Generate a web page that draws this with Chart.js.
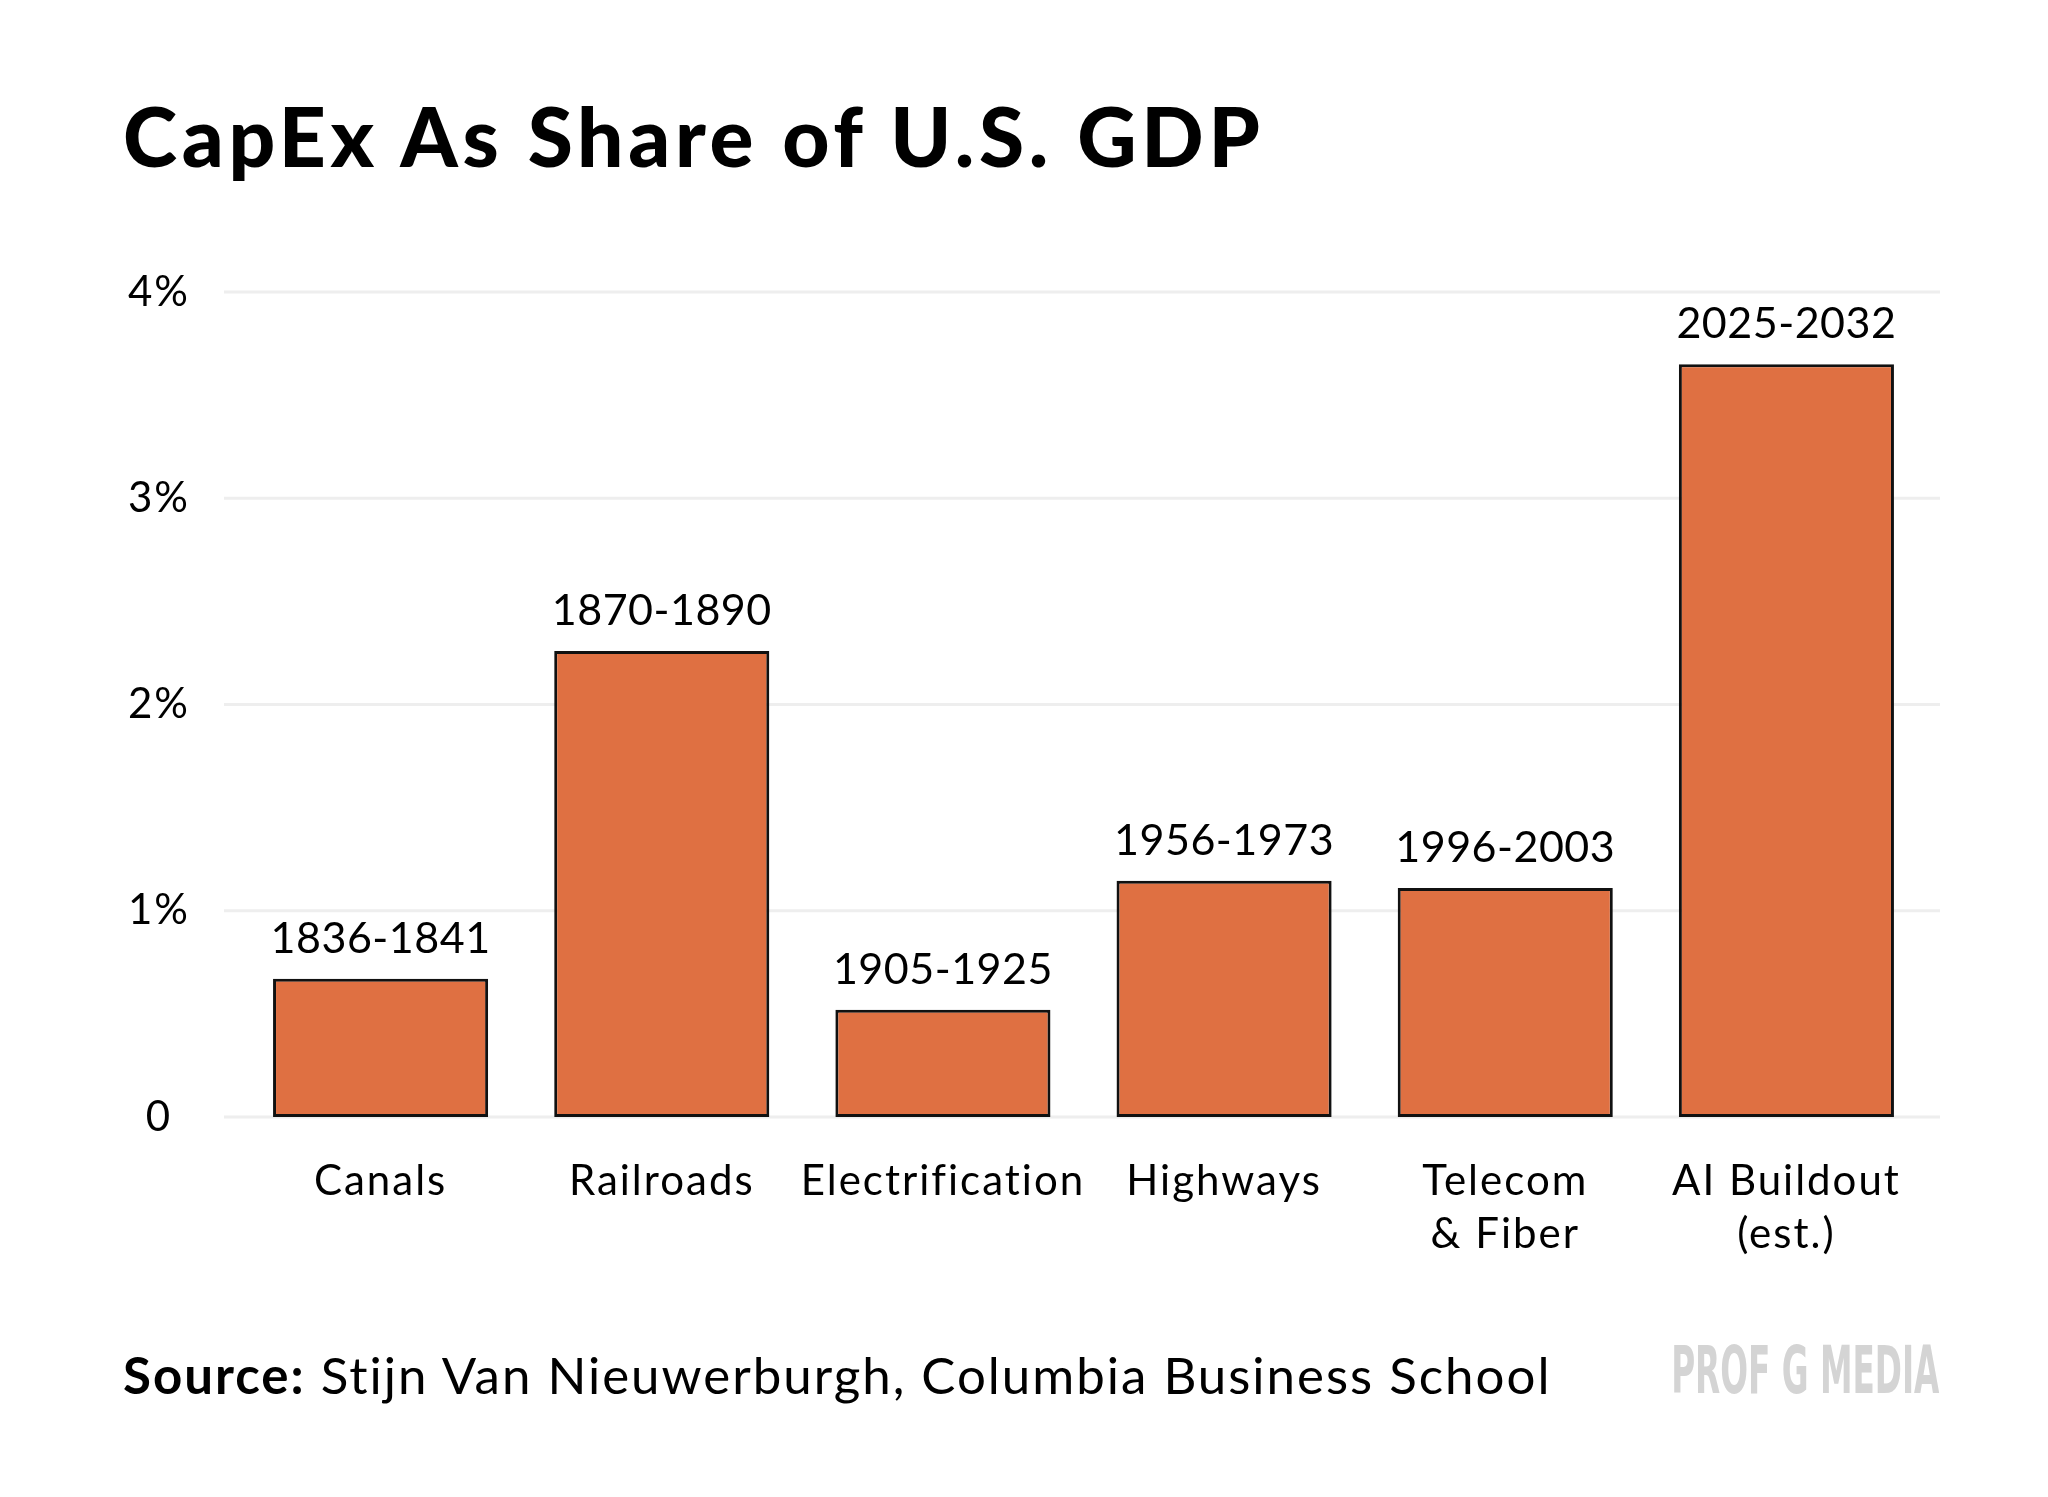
<!DOCTYPE html>
<html>
<head>
<meta charset="utf-8">
<script src="https://cdn.jsdelivr.net/npm/chart.js@4.4.1/dist/chart.umd.min.js"></script>
<style>
  html, body { margin: 0; padding: 0; background: #fff; }
  #wrap { position: relative; width: 2048px; height: 1497px; overflow: hidden; }
  #chart1 { position: absolute; left: 0; top: 0; }
  .title {
    position: absolute; left: 123px; top: 94px; margin: 0;
    font: 900 82px/1 Lato, "Open Sans", sans-serif; color: #000; white-space: nowrap;
    letter-spacing: 4.7px;
  }
  .source {
    position: absolute; left: 123px; top: 1349px;
    font: 400 51px/1 Lato, "Open Sans", sans-serif; color: #000; white-space: nowrap;
    letter-spacing: 2px;
  }
  .source b { font-weight: 700; }
  .brand {
    position: absolute; right: 109px; top: 1338px;
    font: 700 66px/1 "Liberation Sans Narrow", "DejaVu Sans Condensed", sans-serif;
    color: #d4d4d4; white-space: nowrap; transform-origin: right center;
  }
</style>
</head>
<body>
<div id="wrap">
  <canvas id="chart1" width="2048" height="1497"></canvas>
  <h1 class="title">CapEx As Share of U.S. GDP</h1>
  <div class="source"><b>Source:</b> Stijn Van Nieuwerburgh, Columbia Business School</div>
  <div class="brand" id="brand">PROF G MEDIA</div>
</div>
<script>
// data
var categories = ['Canals', 'Railroads', 'Electrification', 'Highways', ['Telecom', '& Fiber'], ['AI Buildout', '(est.)']];
var shares = [0.67, 2.26, 0.52, 1.145, 1.11, 3.65];
var periods = ['1836-1841', '1870-1890', '1905-1925', '1956-1973', '1996-2003', '2025-2032'];
var yTickValues = [0, 1, 2, 3, 4];
var yTickLabels = ['0', '1%', '2%', '3%', '4%'];

var labelFont = '400 43px Lato, "Open Sans", sans-serif';

// wider tracking for the axis text
var tracking = {
  id: 'tracking',
  beforeDraw: function (chart) {
    chart.ctx.letterSpacing = '2px';
  }
};

// light grid lines, a bit wider than the plot area
var gridLines = {
  id: 'gridLines',
  beforeDatasetsDraw: function (chart) {
    var ctx = chart.ctx, area = chart.chartArea, y = chart.scales.y;
    ctx.save();
    ctx.strokeStyle = '#eeeeee';
    ctx.lineWidth = 3;
    y.ticks.forEach(function (t) {
      var py = y.getPixelForValue(t.value);
      ctx.beginPath();
      ctx.moveTo(area.left - 16, py);
      ctx.lineTo(area.right + 13, py);
      ctx.stroke();
    });
    ctx.restore();
  }
};

// period labels above each bar
var periodLabels = {
  id: 'periodLabels',
  afterDatasetsDraw: function (chart) {
    var ctx = chart.ctx;
    var meta = chart.getDatasetMeta(0);
    ctx.save();
    ctx.letterSpacing = '0.5px';
    ctx.font = labelFont;
    ctx.fillStyle = '#000';
    ctx.textAlign = 'center';
    ctx.textBaseline = 'alphabetic';
    meta.data.forEach(function (bar, i) {
      ctx.fillText(periods[i], bar.x, bar.y - 26);
    });
    ctx.restore();
  }
};

var graph = document.getElementById('chart1');

var myChart = new Chart(graph, {
  type: 'bar',
  data: {
    labels: categories,
    datasets: [{
      data: shares,
      backgroundColor: '#df7042',
      borderColor: '#111111',
      borderWidth: 3,
      borderSkipped: false,
      categoryPercentage: 1,
      barPercentage: 0.765
    }]
  },
  options: {
    responsive: false,
    devicePixelRatio: 1,
    animation: false,
    layout: { padding: { top: 292, right: 121, bottom: 200, left: 0 } },
    plugins: {
      legend: { display: false },
      tooltip: { enabled: false }
    },
    scales: {
      x: {
        grid: { display: false, drawTicks: false },
        border: { display: false },
        ticks: {
          color: '#000',
          padding: 38,
          maxRotation: 0,
          autoSkip: false,
          font: { family: 'Lato, "Open Sans", sans-serif', size: 42, lineHeight: 1.255 }
        },
        afterFit: function (scale) {
          scale.height = 180;
          scale.paddingLeft = 0;
          scale.paddingRight = 0;
        }
      },
      y: {
        min: 0,
        max: 4,
        afterBuildTicks: function (scale) {
          scale.ticks = yTickValues.map(function (v) { return { value: v }; });
        },
        grid: { display: false, drawTicks: false },
        border: { display: false },
        ticks: {
          color: '#000',
          crossAlign: 'center',
          padding: 52,
          font: { family: 'Lato, "Open Sans", sans-serif', size: 42 },
          callback: function (value) { return yTickLabels[yTickValues.indexOf(value)]; }
        },
        afterFit: function (scale) {
          scale.width = 240;
          scale.paddingTop = 0;
          scale.paddingBottom = 0;
        }
      }
    }
  },
  plugins: [tracking, gridLines, periodLabels]
});

// squeeze the brand mark to its narrow width
var brand = document.getElementById('brand');
brand.style.transform = 'scaleX(' + (268 / brand.offsetWidth) + ')';
</script>
</body>
</html>
